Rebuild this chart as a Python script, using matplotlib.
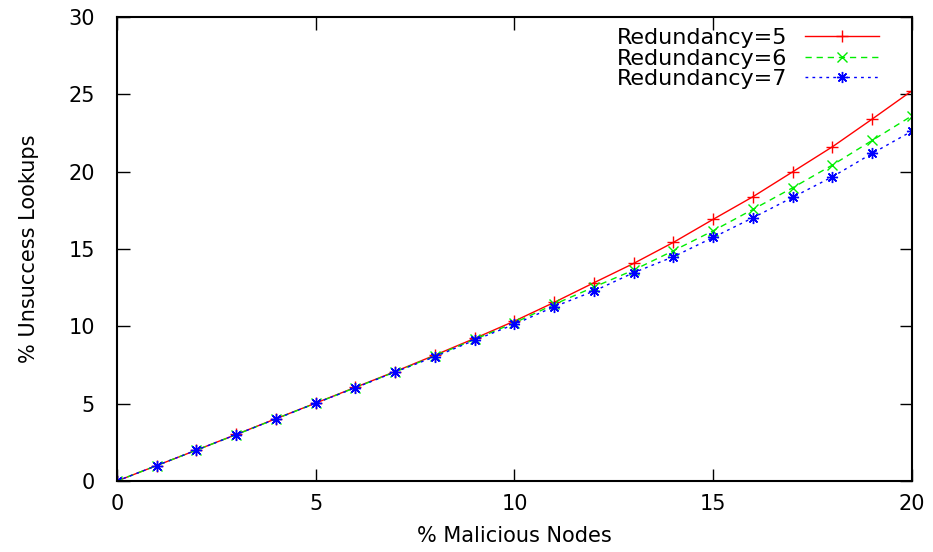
import matplotlib
matplotlib.use('Agg')
import matplotlib.pyplot as plt

plt.rcParams['font.family'] = ['DejaVu Sans']

malicious = [0, 1, 2, 3, 4, 5, 6, 7, 8, 9, 10, 11, 12, 13, 14, 15, 16, 17, 18, 19, 20]
red5 = [0, 1.0, 2.0, 3.01, 4.03, 5.04, 6.06, 7.08, 8.14, 9.22, 10.34, 11.55,
        12.82, 14.07, 15.43, 16.92, 18.38, 19.99, 21.61, 23.40, 25.23]
red6 = [0, 1.0, 2.0, 3.0, 4.02, 5.03, 6.04, 7.06, 8.09, 9.16, 10.23, 11.42,
        12.54, 13.64, 14.89, 16.18, 17.56, 18.96, 20.43, 22.02, 23.61]
red7 = [0, 1.0, 2.0, 3.0, 4.02, 5.03, 6.03, 7.05, 8.04, 9.11, 10.13, 11.27,
        12.28, 13.47, 14.50, 15.75, 17.02, 18.34, 19.67, 21.18, 22.62]
labels = ['Redundancy=5', 'Redundancy=6', 'Redundancy=7']

fig = plt.figure(figsize=(9.33, 5.52), dpi=100)
ax = fig.add_axes([0.1254, 0.1286, 0.852, 0.8406])

ax.plot(malicious, red5, color='#ff0000', linestyle='-', linewidth=1,
        marker='+', markersize=8, markeredgewidth=1, label=labels[0])
ax.plot(malicious, red6, color='#00ee00', linestyle=(0, (4.5, 3.5)), linewidth=1,
        marker='x', markersize=7, markeredgewidth=1, label=labels[1])
ax.plot(malicious, red7, color='#0000ff', linestyle=(0, (2, 3)), linewidth=1,
        marker=(8, 2, 0), markersize=8, markeredgewidth=1, label=labels[2])

ax.set_xlim(0, 20)
ax.set_ylim(0, 30)
ax.set_xticks([0, 5, 10, 15, 20])
ax.set_yticks([0, 5, 10, 15, 20, 25, 30])
ax.tick_params(direction='in', length=9, width=1, labelsize=15, top=True, right=True)
ax.tick_params(axis='x', pad=9)
ax.tick_params(axis='y', pad=16)
for s in ax.spines.values():
    s.set_linewidth(1.5)

ax.set_xlabel('% Malicious Nodes', fontsize=15, labelpad=9)
ax.set_ylabel('% Unsuccess Lookups', fontsize=15, labelpad=21)

ax.legend(loc='upper right', frameon=False, markerfirst=False, fontsize=16,
          handlelength=3.3, handletextpad=0.8, labelspacing=0.02,
          borderaxespad=0, borderpad=0, bbox_to_anchor=(0.958, 0.976))

fig.savefig('out.png', dpi=100)
